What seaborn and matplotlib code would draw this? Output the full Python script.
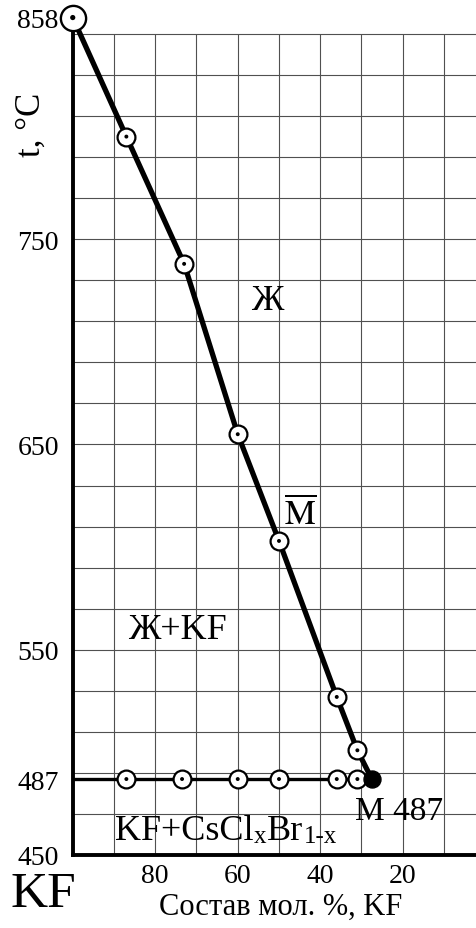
import numpy as np
import pandas as pd
import matplotlib
matplotlib.use("Agg")
import matplotlib.pyplot as plt
import seaborn as sns

# Liquidus of the KF – CsClxBr1-x section (mol. % KF, °C)
liq_kf = [100, 87, 73, 60, 50, 36, 31]
liq_t = [858, 800, 738, 655, 603, 527, 501]

# Eutectic point M
eut_kf = [27.5]
eut_t = [487]

# Thermal effects recorded on the eutectic horizontal
sol_kf = [87, 73.5, 60, 50, 36, 31]
sol_t = [487, 487, 487, 487, 487, 487]

# Axis ticks
y_ticks = [450, 487, 550, 650, 750, 858]
x_ticks = [80, 60, 40, 20]

sns.set_style("white")
plt.rcParams["font.family"] = ["Liberation Serif", "DejaVu Serif"]
plt.rcParams["mathtext.fontset"] = "stix"
plt.rcParams["text.color"] = "black"
plt.rcParams["axes.labelcolor"] = "black"
plt.rcParams["xtick.color"] = "black"
plt.rcParams["ytick.color"] = "black"

fig = plt.figure(figsize=(4.77, 9.29), dpi=100)
ax = fig.add_axes([0.1525, 0.0786, 0.8475, 0.9169])

x_lo, x_hi = 100, 2.0
y_lo, y_hi = 450, 865
ax.set_xlim(x_lo, x_hi)
ax.set_ylim(y_lo, y_hi)

# Millimetre-style grid up to 850 °C
grid_x = np.arange(90, 0, -10)
grid_y = np.arange(470, 851, 20)
ax.vlines(grid_x, 450, 850, color="#505050", lw=0.8, zorder=1)
ax.hlines(grid_y, x_lo, x_hi, color="#505050", lw=0.8, zorder=1)

# Liquidus curve ending at the eutectic point
liq = pd.DataFrame({"kf": liq_kf + eut_kf, "t": liq_t + eut_t})
sns.lineplot(data=liq, x="kf", y="t", sort=False, estimator=None,
             color="black", lw=3.8, ax=ax, zorder=3)

# Eutectic horizontal
sol_line = pd.DataFrame({"kf": [x_lo] + eut_kf, "t": eut_t + eut_t})
sns.lineplot(data=sol_line, x="kf", y="t", sort=False, estimator=None,
             color="black", lw=2.4, ax=ax, zorder=3)

# Experimental points: open circle with a central dot
pts = pd.DataFrame({"kf": liq_kf[1:] + sol_kf, "t": liq_t[1:] + sol_t})
sns.scatterplot(data=pts, x="kf", y="t", s=165, facecolor="white",
                edgecolor="black", linewidth=1.6, ax=ax, zorder=5)
sns.scatterplot(data=pts, x="kf", y="t", s=8, color="black",
                edgecolor="none", ax=ax, zorder=6)

# Melting point of pure KF
top = pd.DataFrame({"kf": liq_kf[:1], "t": liq_t[:1]})
sns.scatterplot(data=top, x="kf", y="t", s=330, facecolor="white",
                edgecolor="black", linewidth=1.7, ax=ax, zorder=5,
                clip_on=False)
sns.scatterplot(data=top, x="kf", y="t", s=14, color="black",
                edgecolor="none", ax=ax, zorder=6, clip_on=False)

# Eutectic point
eut = pd.DataFrame({"kf": eut_kf, "t": eut_t})
sns.scatterplot(data=eut, x="kf", y="t", s=150, color="black",
                edgecolor="black", ax=ax, zorder=6)

# Field labels
ax.text(52.9, 720, "Ж", fontsize=26, ha="center", va="center", zorder=7)
ax.text(44.7, 616, r"$\overline{\mathrm{M}}$", fontsize=25,
        ha="center", va="center", zorder=7)
ax.text(74.7, 560, "Ж+KF", fontsize=26, ha="center", va="center", zorder=7)
ax.text(31.6, 467.5, "M 487", fontsize=24, ha="left", va="baseline", zorder=7)

# Solid-phase field label, small indices set on the baseline
parts = [("KF+CsCl", 26), ("x", 18), ("Br", 26), ("1-x", 18)]
prev = ax.text(89.8, 457.8, parts[0][0], fontsize=parts[0][1],
               ha="left", va="baseline", zorder=7)
for txt, size in parts[1:]:
    prev = ax.annotate(txt, xy=(1, 0), xycoords=prev,
                       xytext=(0.5, 0), textcoords="offset points",
                       fontsize=size, ha="left", va="bottom", zorder=7)

# Axes styling
for side in ("top", "right"):
    ax.spines[side].set_visible(False)
for side in ("left", "bottom"):
    ax.spines[side].set_linewidth(2.8)
    ax.spines[side].set_color("black")
    ax.spines[side].set_zorder(4)
ax.spines["left"].set_bounds(450, 858)

ax.set_yticks(y_ticks)
ax.set_yticklabels([str(v) for v in y_ticks])
ax.set_xticks(x_ticks)
ax.set_xticklabels([str(v) for v in x_ticks])
ax.tick_params(axis="y", length=0, pad=10, labelsize=20)
ax.tick_params(axis="x", length=0, pad=6, labelsize=20)

ax.set_xlabel("Состав мол. %, KF", fontsize=22, va="center")
ax.xaxis.set_label_coords(0.515, -0.060)
ax.set_ylabel("t, °C", fontsize=25, va="center", ha="center")
ax.yaxis.set_label_coords(-0.103, 0.858)

fig.text(10 / 477, 1 - 907 / 929, "KF", fontsize=37, ha="left", va="baseline")

fig.savefig("out.png", dpi=100)
